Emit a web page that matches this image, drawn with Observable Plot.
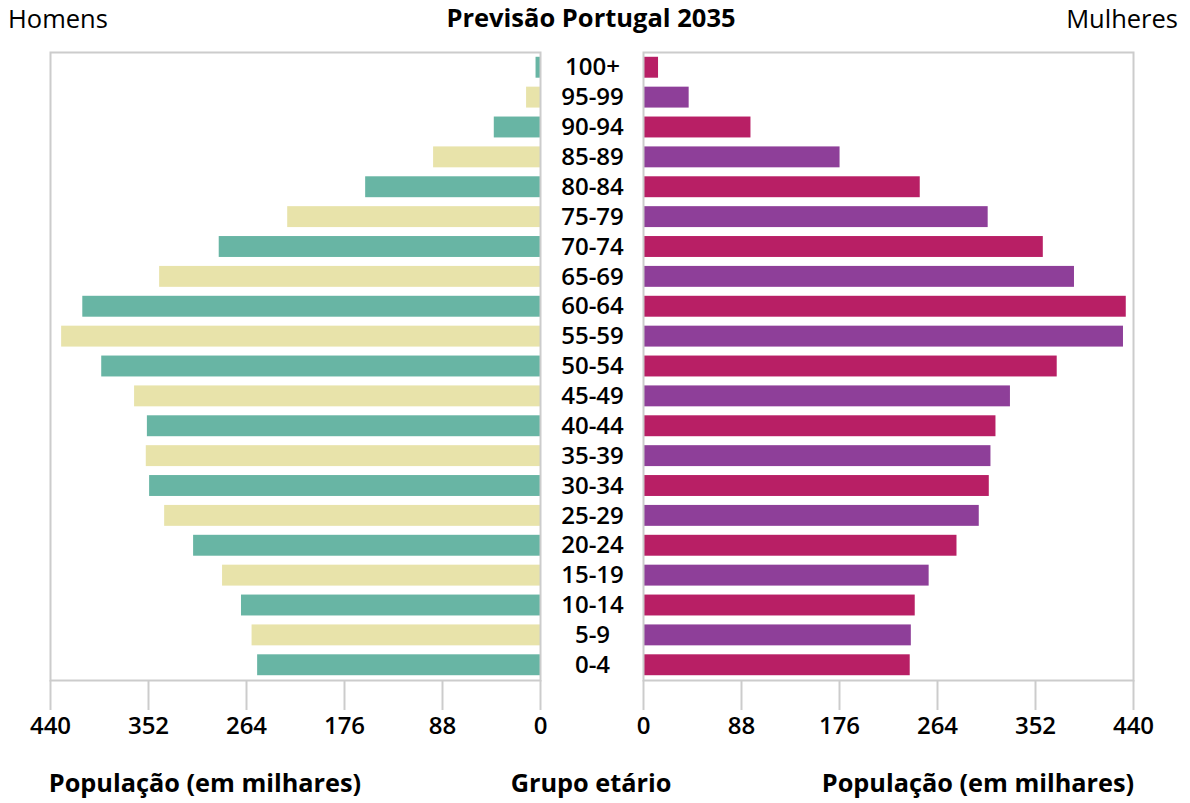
<!DOCTYPE html>
<html>
<head>
<meta charset="utf-8">
<script src="https://cdn.jsdelivr.net/npm/d3@7"></script>
<script src="https://cdn.jsdelivr.net/npm/@observablehq/plot@0.6"></script>
<style>
  body { margin: 0; background: white; font-family: "Open Sans", sans-serif; }
  #wrap { position: relative; width: 1190px; height: 803px; overflow: hidden; background: white; }
  .lbl { position: absolute; white-space: nowrap; color: #000; line-height: 1; }
  .plotbox { position: absolute; top: 0; }
</style>
</head>
<body>
<div id="wrap">
  <div class="lbl" style="left:8px; top:6px; font-size:25.5px;">Homens</div>
  <div class="lbl" style="left:591px; top:5px; font-size:25.5px; font-weight:700; transform:translateX(-50%);">Previsão Portugal 2035</div>
  <div class="lbl" style="right:12px; top:6px; font-size:25.5px;">Mulheres</div>
  <div class="lbl" style="left:205px; top:770px; font-size:25.3px; font-weight:700; transform:translateX(-50%);">População (em milhares)</div>
  <div class="lbl" style="left:591px; top:770px; font-size:25.3px; font-weight:700; transform:translateX(-50%);">Grupo etário</div>
  <div class="lbl" style="left:978px; top:770px; font-size:25.3px; font-weight:700; transform:translateX(-50%);">População (em milhares)</div>
  <div id="left" class="plotbox" style="left:0px;"></div>
  <div id="right" class="plotbox" style="left:541px;"></div>
</div>
<script>
// Age groups (bottom to top)
const ages = ["0-4","5-9","10-14","15-19","20-24","25-29","30-34","35-39","40-44","45-49",
              "50-54","55-59","60-64","65-69","70-74","75-79","80-84","85-89","90-94","95-99","100+"];
// Population in thousands
const homens = [254, 259, 268.5, 285.5, 311.5, 337.5, 351, 354, 353, 364.5,
                394, 430, 411, 342, 288.5, 227, 157, 96, 41.5, 12.5, 4];
const mulheres = [239.5, 240.5, 244, 256.5, 281.5, 301.5, 310.5, 312, 316.5, 329.5,
                  371.5, 431, 433.5, 387, 359, 309.5, 248.5, 176.5, 96.5, 41, 13.5];
const coresHomens = ["#68b5a4", "#e8e3aa"];
const coresMulheres = ["#b81f65", "#8e3f99"];
const tickValues = [0, 88, 176, 264, 352, 440];

const data = ages.map((age, i) => ({age, h: homens[i], m: mulheres[i], par: i % 2}));
const yDomain = ages.slice().reverse();

const common = {
  height: 760,
  marginTop: 52,
  marginBottom: 80,
  style: {fontFamily: "Open Sans", background: "transparent", overflow: "visible", color: "#000"},
  y: {domain: yDomain, paddingInner: 0.3, paddingOuter: 0.16, round: false, axis: null}
};
const axisOpts = {ticks: tickValues, tickSize: 30, tickPadding: 6, fontSize: 24, fontWeight: 600,
                  stroke: "#cccccc", strokeWidth: 2, fill: "#000", label: null};

const left = Plot.plot({
  ...common,
  width: 542,
  marginLeft: 50,
  marginRight: 2,
  x: {domain: [440, 0]},
  marks: [
    Plot.barX(data.filter(d => d.par === 0), {x: "h", y: "age", fill: coresHomens[0]}),
    Plot.barX(data.filter(d => d.par === 1), {x: "h", y: "age", fill: coresHomens[1]}),
    Plot.frame({stroke: "#cccccc", strokeWidth: 2}),
    Plot.axisX(axisOpts)
  ]
});
document.getElementById("left").appendChild(left);

const right = Plot.plot({
  ...common,
  width: 649,
  marginLeft: 102,
  marginRight: 57,
  x: {domain: [0, 440]},
  marks: [
    Plot.barX(data.filter(d => d.par === 0), {x: "m", y: "age", fill: coresMulheres[0]}),
    Plot.barX(data.filter(d => d.par === 1), {x: "m", y: "age", fill: coresMulheres[1]}),
    Plot.frame({stroke: "#cccccc", strokeWidth: 2}),
    Plot.text(data, {text: "age", y: "age", frameAnchor: "left", dx: -51, textAnchor: "middle",
                     fontSize: 24, fontWeight: 600, fill: "#000"}),
    Plot.axisX(axisOpts)
  ]
});
document.getElementById("right").appendChild(right);
</script>
</body>
</html>
